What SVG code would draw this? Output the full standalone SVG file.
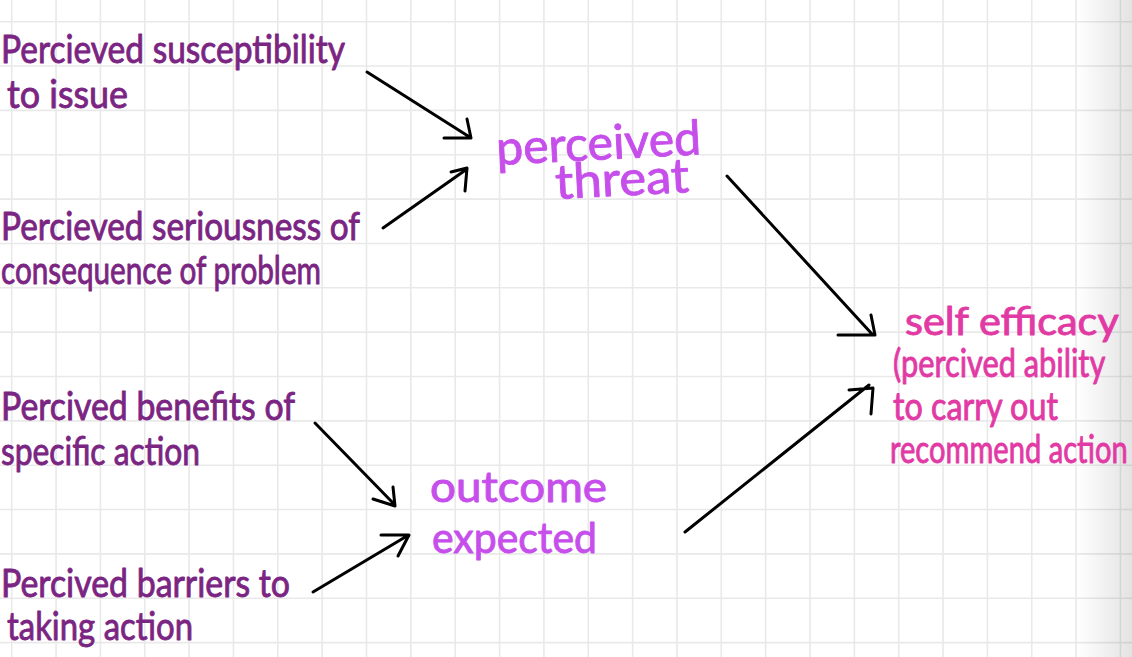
<svg xmlns="http://www.w3.org/2000/svg" width="1132" height="657" viewBox="0 0 1132 657">
<defs>
<style>
.grid{fill:none;stroke:#e9e9e9;stroke-width:1.6}
.t{font-family:Lato,"Open Sans",sans-serif;font-weight:400;stroke-width:0.9;stroke-linejoin:round}
.factor{fill:#7b2582;stroke:#7b2582;font-size:39px}
.mid{fill:#c64feb;stroke:#c64feb;font-size:48px}
.mid2{font-size:42px}
.out{fill:#e23aa4;stroke:#e23aa4;font-size:38px}
.arr{fill:none;stroke:#000;stroke-width:3;stroke-linecap:round;stroke-linejoin:round}
</style>
<linearGradient id="curl" x1="0" y1="0" x2="1" y2="0">
<stop offset="0" stop-color="#000" stop-opacity="0"/>
<stop offset="1" stop-color="#000" stop-opacity="0.11"/>
</linearGradient>
</defs>
<rect width="1132" height="657" fill="#fff"/>
<path class="grid" d="M11.7 0V657M56.05 0V657M100.4 0V657M144.75 0V657M189.1 0V657M233.45 0V657M277.8 0V657M322.15 0V657M366.5 0V657M410.85 0V657M455.2 0V657M499.55 0V657M543.9 0V657M588.25 0V657M632.6 0V657M676.95 0V657M721.3 0V657M765.65 0V657M810 0V657M854.35 0V657M898.7 0V657M943.05 0V657M987.4 0V657M1031.75 0V657M1076.1 0V657M1120.45 0V657M0 21.7H1132M0 66.05H1132M0 110.4H1132M0 154.75H1132M0 199.1H1132M0 243.45H1132M0 287.8H1132M0 332.15H1132M0 376.5H1132M0 420.85H1132M0 465.2H1132M0 509.55H1132M0 553.9H1132M0 598.25H1132M0 642.6H1132"/>
<rect x="1076" y="0" width="56" height="657" fill="url(#curl)"/>

<g id="connectors">
<path class="arr" d="M367 72L468 136M444 138H471L467 119"/>
<path class="arr" d="M383 228L467 169M451 172L467 168L465 191"/>
<path class="arr" d="M727 176L872 334M838 335H875L871 315"/>
<path class="arr" d="M685 532L869 385M849 390L873 388L871 414"/>
<path class="arr" d="M315 423L394 504M373 499L395 506L393 487"/>
<path class="arr" d="M313 592L407 536M381 535H409L398 556"/>
</g>

<g id="susceptibility">
<text class="t factor" x="1" y="63" textLength="344" lengthAdjust="spacingAndGlyphs">Percieved susceptibility</text>
<text class="t factor" x="7" y="108" textLength="121" lengthAdjust="spacingAndGlyphs">to issue</text>
</g>
<g id="seriousness">
<text class="t factor" x="1" y="240" textLength="359" lengthAdjust="spacingAndGlyphs">Percieved seriousness of</text>
<text class="t factor" x="1" y="284" textLength="320" lengthAdjust="spacingAndGlyphs">consequence of problem</text>
</g>
<g id="benefits">
<text class="t factor" x="1" y="420" textLength="294" lengthAdjust="spacingAndGlyphs">Percived benefits of</text>
<text class="t factor" x="1" y="465" textLength="199" lengthAdjust="spacingAndGlyphs">specific action</text>
</g>
<g id="barriers">
<text class="t factor" x="1" y="597" textLength="289" lengthAdjust="spacingAndGlyphs">Percived barriers to</text>
<text class="t factor" x="7" y="640" textLength="186" lengthAdjust="spacingAndGlyphs">taking action</text>
</g>
<g id="perceived-threat">
<text class="t mid" x="497" y="165" textLength="205" lengthAdjust="spacingAndGlyphs" transform="rotate(-3 497 165)">perceived</text>
<text class="t mid" x="556" y="199" textLength="134" lengthAdjust="spacingAndGlyphs" transform="rotate(-3 556 199)">threat</text>
</g>
<g id="outcome-expected">
<text class="t mid mid2" x="430" y="502" textLength="177" lengthAdjust="spacingAndGlyphs">outcome</text>
<text class="t mid mid2" x="432" y="553" textLength="165" lengthAdjust="spacingAndGlyphs">expected</text>
</g>
<g id="self-efficacy" transform="translate(890 0) scale(0.75 1)">
<text class="t out" x="20" y="335" textLength="285" lengthAdjust="spacingAndGlyphs">self efficacy</text>
<text class="t out" x="4" y="377" textLength="283" lengthAdjust="spacingAndGlyphs">(percived ability</text>
<text class="t out" x="4" y="420" textLength="220" lengthAdjust="spacingAndGlyphs">to carry out</text>
<text class="t out" x="0" y="463" textLength="317" lengthAdjust="spacingAndGlyphs">recommend action</text>
</g>
</svg>
